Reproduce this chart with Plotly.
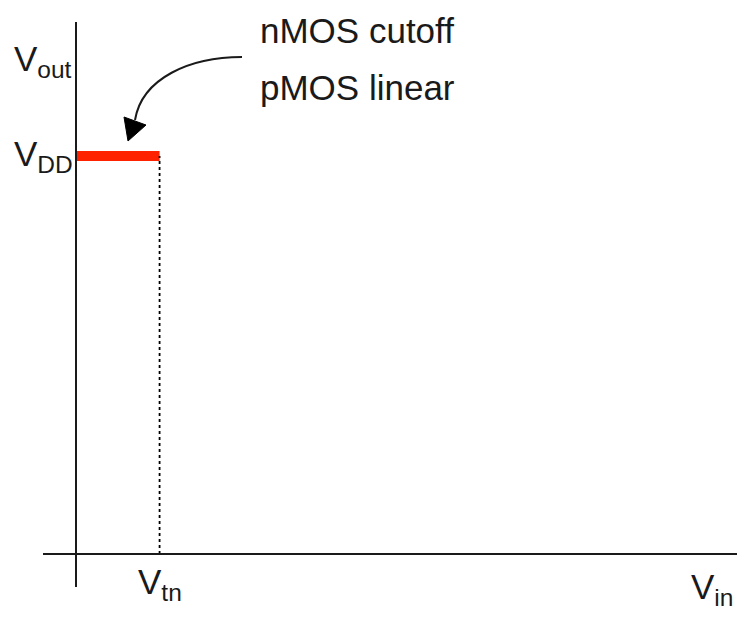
import plotly.graph_objects as go

# ---- data (normalised: VDD = 1) ----
VDD = 1.0
Vtn = 0.21
region_vin = [0.0, Vtn]
region_vout = [VDD, VDD]
dotted_vin = [Vtn, Vtn]
dotted_vout = [0.0, VDD]
region_text = ["nMOS cutoff", "pMOS linear"]
axis_labels = {"x": "V<sub>in</sub>", "y": "V<sub>out</sub>", "vdd": "V<sub>DD</sub>", "vtn": "V<sub>tn</sub>"}

# ---- layout geometry (pixels -> data units) ----
W, H = 737, 618
X0, Y0, S = 76, 554, 398.0   # pixel of origin, pixels per unit


def px(x):
    return (x - X0) / S


def py(y):
    return (Y0 - y) / S


FONT = "Liberation Sans, Arial, sans-serif"
INK = "#1a1a1a"

fig = go.Figure()

# red segment: Vout = VDD for 0 <= Vin <= Vtn
fig.add_trace(go.Scatter(x=region_vin, y=region_vout, mode="lines",
                         line=dict(color="#ff2200", width=10), hoverinfo="skip",
                         showlegend=False))
# dotted drop line at Vtn
fig.add_trace(go.Scatter(x=dotted_vin, y=dotted_vout, mode="lines",
                         line=dict(color="#000000", width=1.8, dash="dot"),
                         hoverinfo="skip", showlegend=False))

shapes = [
    # y axis
    dict(type="line", xref="x", yref="y", x0=0, x1=0, y0=py(587), y1=py(22),
         line=dict(color=INK, width=2)),
    # x axis
    dict(type="line", xref="x", yref="y", x0=px(43), x1=px(737), y0=0, y1=0,
         line=dict(color=INK, width=2)),
    # curved arrow
    dict(type="path", xref="x", yref="y",
         path=f"M {px(242)},{py(57)} C {px(190)},{py(57)} {px(142)},{py(78)} {px(135)},{py(120)}",
         line=dict(color=INK, width=2)),
    # arrow head
    dict(type="path", xref="x", yref="y",
         path=f"M {px(124)},{py(117)} L {px(146)},{py(125)} L {px(128)},{py(141)} Z",
         fillcolor="#000000", line=dict(color="#000000", width=1)),
]

annotations = [
    dict(text=region_text[0], x=px(258), y=py(30), xanchor="left", yanchor="middle",
         font=dict(family=FONT, size=35, color=INK)),
    dict(text=region_text[1], x=px(258), y=py(87), xanchor="left", yanchor="middle",
         font=dict(family=FONT, size=35, color=INK)),
    dict(text=axis_labels["y"], x=px(12), y=py(61), xanchor="left", yanchor="middle",
         font=dict(family=FONT, size=35, color=INK)),
    dict(text=axis_labels["vdd"], x=px(12), y=VDD, xanchor="left", yanchor="middle",
         font=dict(family=FONT, size=35, color=INK)),
    dict(text=axis_labels["vtn"], x=Vtn, y=py(584), xanchor="center", yanchor="middle",
         font=dict(family=FONT, size=35, color=INK)),
    dict(text=axis_labels["x"], x=px(735), y=py(589), xanchor="right", yanchor="middle",
         font=dict(family=FONT, size=35, color=INK)),
]
for a in annotations:
    a.update(xref="x", yref="y", showarrow=False)

fig.update_layout(
    width=W, height=H,
    margin=dict(l=0, r=0, t=0, b=0),
    paper_bgcolor="white", plot_bgcolor="white",
    xaxis=dict(range=[px(0), px(W)], visible=False, fixedrange=True),
    yaxis=dict(range=[py(H), py(0)], visible=False, fixedrange=True),
    shapes=shapes, annotations=annotations, showlegend=False,
)

fig.write_html("out.html", config={"displayModeBar": False},
               post_script="document.body.style.margin='0';document.body.style.overflow='hidden';")
